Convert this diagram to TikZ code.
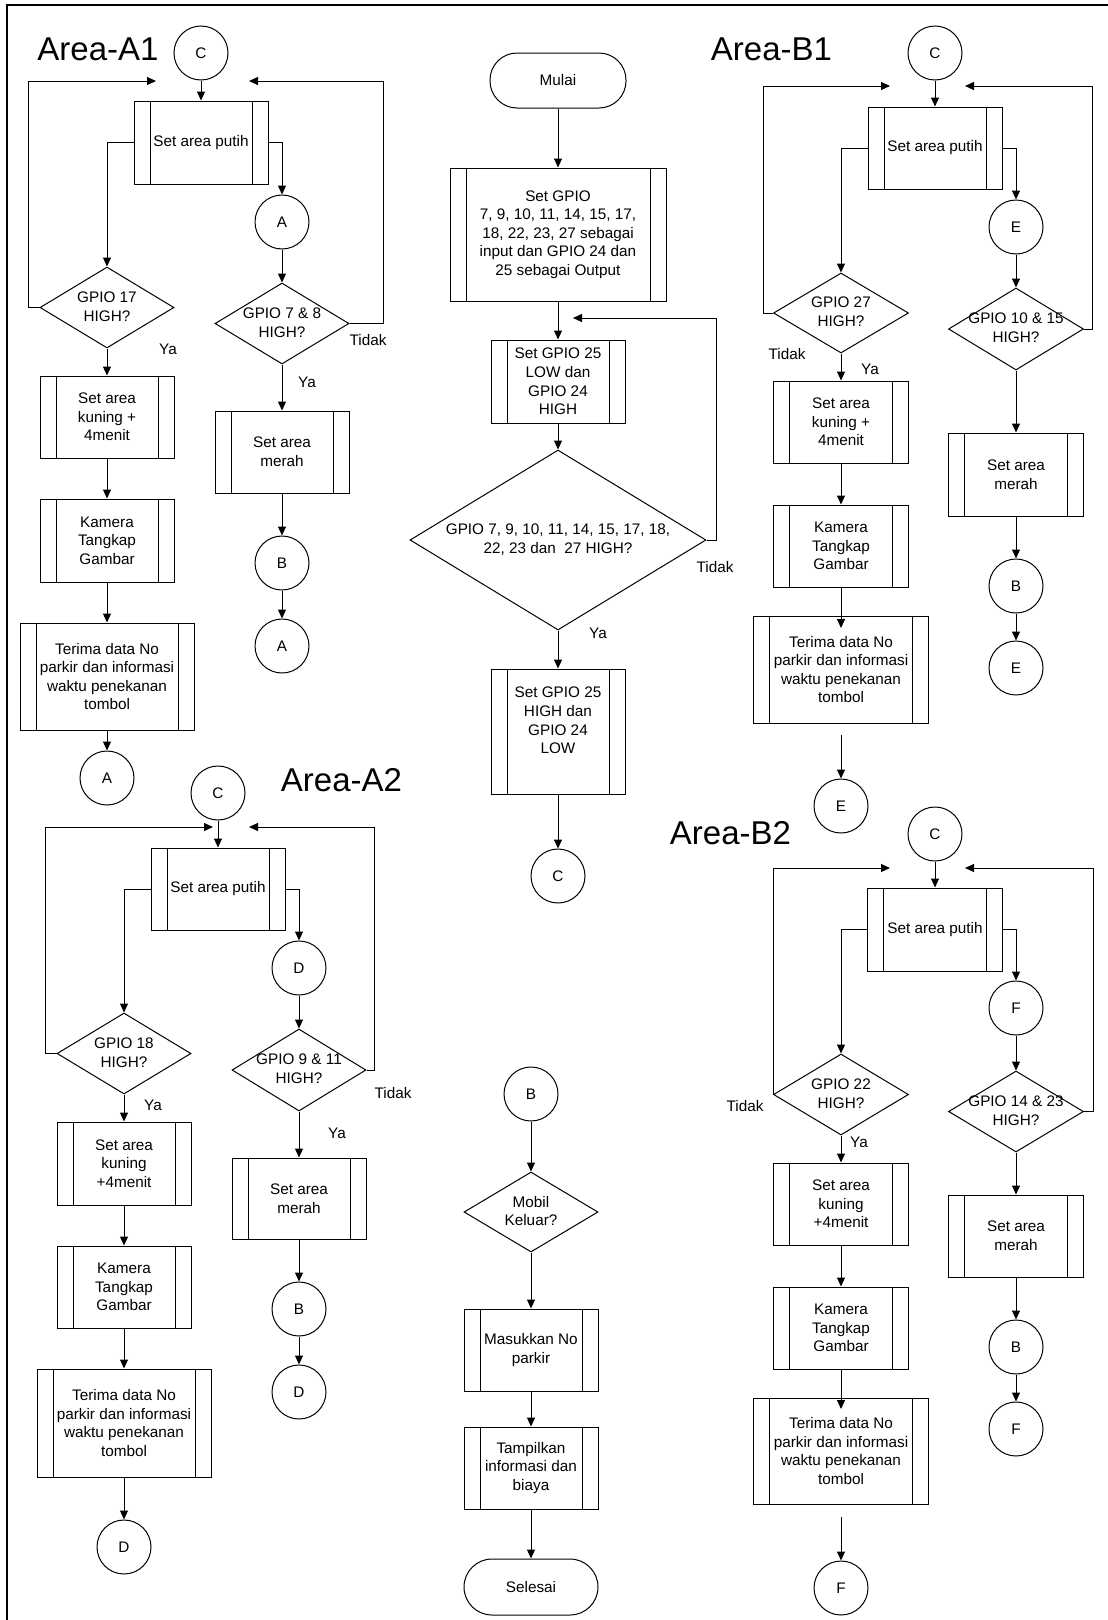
\documentclass[tikz,border=0pt]{standalone}
\usepackage{fontspec}
\setmainfont{Liberation Sans}
\usetikzlibrary{shapes.geometric,arrows.meta}
\begin{document}
\begin{tikzpicture}[x=1pt,y=-1pt,
  line width=1pt,
  every node/.style={font=\fontsize{15.3}{18.6}\selectfont},
  arr/.style={-{Triangle[length=9pt,width=8pt]}},
  procbox/.style={draw, rectangle, align=center, inner sep=2pt,
    path picture={
      \draw ([xshift=16pt]path picture bounding box.north west) -- ([xshift=16pt]path picture bounding box.south west);
      \draw ([xshift=-16pt]path picture bounding box.north east) -- ([xshift=-16pt]path picture bounding box.south east);}},
  dec/.style={draw, diamond, inner sep=0pt},
  conn/.style={draw, circle, minimum size=54pt, inner sep=0pt},
  term/.style={draw, rectangle, rounded corners=27pt, align=center},
  lbl/.style={inner sep=0pt},
  areatitle/.style={font=\fontsize{33}{40}\selectfont, inner sep=0pt},
  dtext/.style={align=center, inner sep=0pt}]
\useasboundingbox (0,0) rectangle (1108,1620);
\fill[white] (0,0) rectangle (1108,1620);
\draw[line width=2pt] (7,1630) -- (7,5) -- (1120,5);

% ---------------- Area-A1 ----------------
\node[areatitle] (tA1) at (98,49.5) {Area-A1};
\node[conn] (a1c) at (201,53) {C};
\node[procbox, minimum width=134pt, minimum height=83pt] (a1p) at (201,142.5) {Set area putih};
\node[dec, minimum width=134pt, minimum height=81pt] (a1d1) at (107,307.5) {};
\node[dtext] (a1d1t) at (107,306.5) {GPIO 17\\HIGH?};
\node[conn] (a1a) at (282,222) {A};
\node[dec, minimum width=134pt, minimum height=81pt] (a1d2) at (282,323.5) {};
\node[dtext] (a1d2t) at (282,322.5) {GPIO 7 \& 8\\HIGH?};
\node[procbox, minimum width=134pt, minimum height=82pt] (a1k) at (107,417) {Set area\\kuning +\\4menit};
\node[procbox, minimum width=134pt, minimum height=83pt] (a1cam) at (107,540.5) {Kamera\\Tangkap\\Gambar};
\node[procbox, minimum width=174pt, minimum height=107pt] (a1t) at (107,676.5) {Terima data No\\parkir dan informasi\\waktu penekanan\\tombol};
\node[conn] (a1A) at (107,778) {A};
\node[procbox, minimum width=134pt, minimum height=82pt] (a1m) at (282,452) {Set area\\merah};
\node[conn] (a1B) at (282,563) {B};
\node[conn] (a1A2) at (282,646) {A};
\coordinate (a1lt) at (156,81);
\coordinate (a1rt) at (249,81);
\draw[arr] (a1c.south) -- (a1p.north);
\draw[arr] (a1p.west) -| (a1d1.north);
\draw[arr] (a1d1.west) -- ++(-11,0) |- (a1lt);
\draw[arr] (a1p.east) -| (a1a.north);
\draw[arr] (a1a.south) -- (a1d2.north);
\draw[arr] (a1d2.east) -- ++(34,0) |- (a1rt);
\draw[arr] (a1d1.south) -- (a1k.north);
\draw[arr] (a1k.south) -- (a1cam.north);
\draw[arr] (a1cam.south) -- (a1t.north);
\draw[arr] (a1t.south) -- (a1A.north);
\draw[arr] (a1d2.south) -- (a1m.north);
\draw[arr] (a1m.south) -- (a1B.north);
\draw[arr] (a1B.south) -- (a1A2.north);
\node[lbl] (a1ya1) at (168,349) {Ya};
\node[lbl] (a1tid) at (368,340) {Tidak};
\node[lbl] (a1ya2) at (307,382) {Ya};

% ---------------- Area-A2 ----------------
\node[areatitle] (tA2) at (341.5,780.5) {Area-A2};
\node[conn] (a2c) at (218,793) {C};
\node[procbox, minimum width=134pt, minimum height=82pt] (a2p) at (218,889) {Set area putih};
\node[dec, minimum width=134pt, minimum height=81pt] (a2d1) at (124,1053.5) {};
\node[dtext] (a2d1t) at (124,1052.5) {GPIO 18\\HIGH?};
\node[conn] (a2d) at (299,968) {D};
\node[dec, minimum width=134pt, minimum height=82pt] (a2d2) at (299,1070) {};
\node[dtext] (a2d2t) at (299,1069) {GPIO 9 \& 11\\HIGH?};
\node[procbox, minimum width=134pt, minimum height=83pt] (a2k) at (124,1163.5) {Set area\\kuning\\+4menit};
\node[procbox, minimum width=134pt, minimum height=82pt] (a2cam) at (124,1287) {Kamera\\Tangkap\\Gambar};
\node[procbox, minimum width=174pt, minimum height=108pt] (a2t) at (124,1423) {Terima data No\\parkir dan informasi\\waktu penekanan\\tombol};
\node[conn] (a2D) at (124,1547) {D};
\node[procbox, minimum width=134pt, minimum height=81pt] (a2m) at (299,1198.5) {Set area\\merah};
\node[conn] (a2B) at (299,1309) {B};
\node[conn] (a2D2) at (299,1392) {D};
\coordinate (a2lt) at (213,827);
\coordinate (a2rt) at (249,827);
\draw[arr] (a2c.south) -- (a2p.north);
\draw[arr] (a2p.west) -| (a2d1.north);
\draw[arr] (a2d1.west) -- ++(-11,0) |- (a2lt);
\draw[arr] (a2p.east) -| (a2d.north);
\draw[arr] (a2d.south) -- (a2d2.north);
\draw[arr] (a2d2.east) -- ++(8,0) |- (a2rt);
\draw[arr] (a2d1.south) -- (a2k.north);
\draw[arr] (a2k.south) -- (a2cam.north);
\draw[arr] (a2cam.south) -- (a2t.north);
\draw[arr] (a2t.south) -- (a2D.north);
\draw[arr] (a2d2.south) -- (a2m.north);
\draw[arr] (a2m.south) -- (a2B.north);
\draw[arr] (a2B.south) -- (a2D2.north);
\node[lbl] (a2ya1) at (153,1105) {Ya};
\node[lbl] (a2tid) at (393,1093) {Tidak};
\node[lbl] (a2ya2) at (337,1133) {Ya};

% ---------------- Main ----------------
\node[term, minimum width=136pt, minimum height=55pt] (mulai) at (558,80.5) {Mulai};
\node[procbox, minimum width=216pt, minimum height=133pt] (gpio) at (558,234.5) {Set GPIO\\7, 9, 10, 11, 14, 15, 17,\\18, 22, 23, 27 sebagai\\input dan GPIO 24 dan\\25 sebagai Output};
\node[procbox, minimum width=134pt, minimum height=83pt] (low) at (558,381.5) {Set GPIO 25\\LOW dan\\GPIO 24\\HIGH};
\node[dec, minimum width=296pt, minimum height=180pt] (bigd) at (558,540) {};
\node[dtext] (bigdt) at (558,539.5) {GPIO 7, 9, 10, 11, 14, 15, 17, 18,\\22, 23 dan\ \ 27 HIGH?};
\node[procbox, minimum width=134pt, minimum height=125pt, text depth=22pt] (high) at (558,731.5) {Set GPIO 25\\HIGH dan\\GPIO 24\\LOW};
\node[conn] (cC) at (558,876) {C};
\coordinate (cloop) at (573,318);
\draw[arr] (mulai.south) -- (gpio.north);
\draw[arr] (gpio.south) -- (low.north);
\draw[arr] (low.south) -- (bigd.north);
\draw[arr] (bigd.east) -- ++(10,0) |- (cloop);
\draw[arr] (bigd.south) -- (high.north);
\draw[arr] (high.south) -- (cC.north);
\node[lbl] (mtid) at (715,567) {Tidak};
\node[lbl] (mya) at (598,633) {Ya};

\node[conn] (mB) at (531,1094) {B};
\node[dec, minimum width=134pt, minimum height=80pt] (mobil) at (531,1212) {};
\node[dtext] (mobilt) at (531,1211) {Mobil\\Keluar?};
\node[procbox, minimum width=134pt, minimum height=82pt] (masuk) at (531,1350) {Masukkan No\\parkir};
\node[procbox, minimum width=134pt, minimum height=82pt] (tamp) at (531,1468) {Tampilkan\\informasi dan\\biaya};
\node[term, minimum width=134pt, minimum height=56pt, rounded corners=28pt] (selesai) at (531,1587) {Selesai};
\draw[arr] (mB.south) -- (mobil.north);
\draw[arr] (mobil.south) -- (masuk.north);
\draw[arr] (masuk.south) -- (tamp.north);
\draw[arr] (tamp.south) -- (selesai.north);

% ---------------- Area-B1 ----------------
\node[areatitle] (tB1) at (771.5,49.5) {Area-B1};
\node[conn] (b1c) at (935,53) {C};
\node[procbox, minimum width=134pt, minimum height=82pt] (b1p) at (935,148) {Set area putih};
\node[dec, minimum width=135pt, minimum height=80pt] (b1d1) at (841,313) {};
\node[dtext] (b1d1t) at (841,312) {GPIO 27\\HIGH?};
\node[conn] (b1e) at (1016,227) {E};
\node[dec, minimum width=135pt, minimum height=82pt] (b1d2) at (1016,329) {};
\node[dtext] (b1d2t) at (1016,328) {GPIO 10 \& 15\\HIGH?};
\node[procbox, minimum width=135pt, minimum height=82pt] (b1k) at (841,422) {Set area\\kuning +\\4menit};
\node[procbox, minimum width=135pt, minimum height=82pt] (b1cam) at (841,546) {Kamera\\Tangkap\\Gambar};
\node[procbox, minimum width=175pt, minimum height=107pt] (b1t) at (841,669.5) {Terima data No\\parkir dan informasi\\waktu penekanan\\tombol};
\node[conn] (b1E) at (841,806) {E};
\node[procbox, minimum width=135pt, minimum height=83pt] (b1m) at (1016,474.5) {Set area\\merah};
\node[conn] (b1B) at (1016,586) {B};
\node[conn] (b1E2) at (1016,668) {E};
\coordinate (b1lt) at (890,86);
\coordinate (b1rt) at (965,86);
\coordinate (b1tend) at (841,628);
\coordinate (b1tstart) at (841,735);
\draw[arr] (b1c.south) -- (b1p.north);
\draw[arr] (b1p.west) -| (b1d1.north);
\draw[arr] (b1d1.west) -- ++(-10,0) |- (b1lt);
\draw[arr] (b1p.east) -| (b1e.north);
\draw[arr] (b1e.south) -- (b1d2.north);
\draw[arr] (b1d2.east) -- ++(8,0) |- (b1rt);
\draw[arr] (b1d1.south) -- (b1k.north);
\draw[arr] (b1k.south) -- (b1cam.north);
\draw[arr] (b1cam.south) -- (b1tend);
\draw[arr] (b1tstart) -- (b1E.north);
\draw[arr] (b1d2.south) -- (b1m.north);
\draw[arr] (b1m.south) -- (b1B.north);
\draw[arr] (b1B.south) -- (b1E2.north);
\node[lbl] (b1tid) at (787,354) {Tidak};
\node[lbl] (b1ya) at (870,369) {Ya};

% ---------------- Area-B2 ----------------
\node[areatitle] (tB2) at (730.5,833.5) {Area-B2};
\node[conn] (b2c) at (935,834) {C};
\node[procbox, minimum width=135pt, minimum height=83pt] (b2p) at (935,929.5) {Set area putih};
\node[dec, minimum width=135pt, minimum height=81pt] (b2d1) at (841,1094.5) {};
\node[dtext] (b2d1t) at (841,1093.5) {GPIO 22\\HIGH?};
\node[conn] (b2f) at (1016,1008) {F};
\node[dec, minimum width=135pt, minimum height=81pt] (b2d2) at (1016,1111.5) {};
\node[dtext] (b2d2t) at (1016,1110.5) {GPIO 14 \& 23\\HIGH?};
\node[procbox, minimum width=135pt, minimum height=82pt] (b2k) at (841,1204) {Set area\\kuning\\+4menit};
\node[procbox, minimum width=135pt, minimum height=82pt] (b2cam) at (841,1328) {Kamera\\Tangkap\\Gambar};
\node[procbox, minimum width=175pt, minimum height=106pt] (b2t) at (841,1451) {Terima data No\\parkir dan informasi\\waktu penekanan\\tombol};
\node[conn] (b2F) at (841,1588) {F};
\node[procbox, minimum width=135pt, minimum height=82pt] (b2m) at (1016,1236) {Set area\\merah};
\node[conn] (b2B) at (1016,1347) {B};
\node[conn] (b2F2) at (1016,1429) {F};
\coordinate (b2lt) at (890,868);
\coordinate (b2rt) at (965,868);
\coordinate (b2tend) at (841,1409);
\coordinate (b2tstart) at (841,1517);
\draw[arr] (b2c.south) -- (b2p.north);
\draw[arr] (b2p.west) -| (b2d1.north);
\draw[arr] (b2d1.west) |- (b2lt);
\draw[arr] (b2p.east) -| (b2f.north);
\draw[arr] (b2f.south) -- (b2d2.north);
\draw[arr] (b2d2.east) -- ++(9,0) |- (b2rt);
\draw[arr] (b2d1.south) -- (b2k.north);
\draw[arr] (b2k.south) -- (b2cam.north);
\draw[arr] (b2cam.south) -- (b2tend);
\draw[arr] (b2tstart) -- (b2F.north);
\draw[arr] (b2d2.south) -- (b2m.north);
\draw[arr] (b2m.south) -- (b2B.north);
\draw[arr] (b2B.south) -- (b2F2.north);
\node[lbl] (b2tid) at (745,1106) {Tidak};
\node[lbl] (b2ya) at (859,1142) {Ya};
\end{tikzpicture}
\end{document}
